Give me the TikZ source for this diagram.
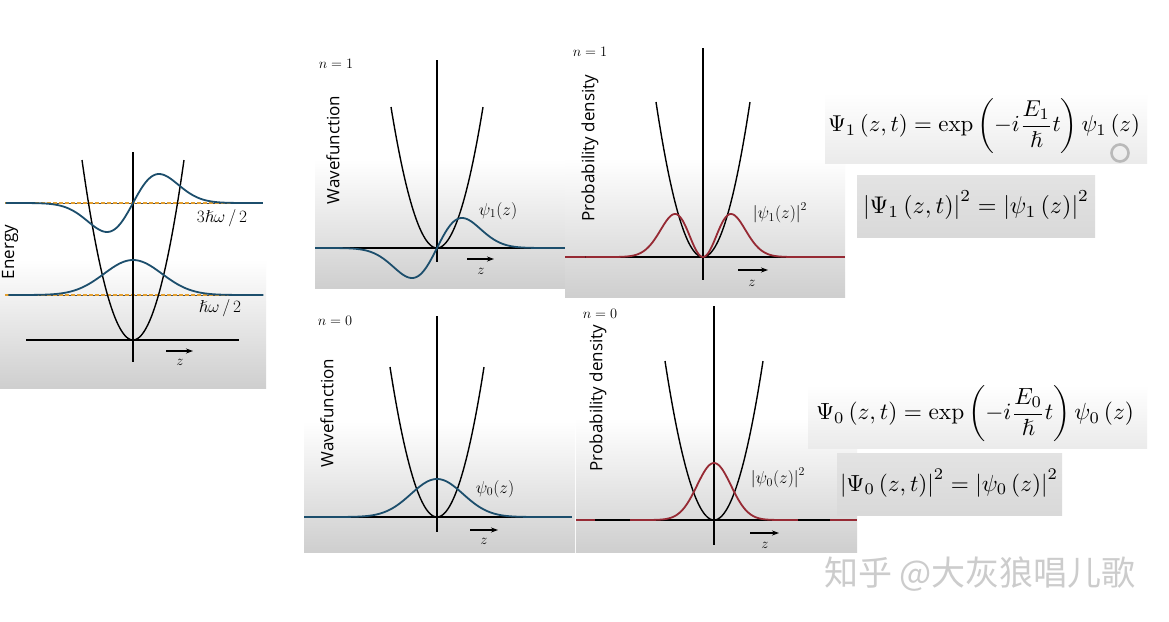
\documentclass[tikz,border=0pt]{standalone}
\usepackage{amsmath}
\usepackage{amssymb}
\usepackage{graphicx}
\usepackage{fontspec}
\setsansfont{Open Sans}
\newfontfamily\cjkfont{Noto Sans CJK SC}
\usetikzlibrary{arrows.meta}
\definecolor{wavec}{RGB}{28,78,108}
\definecolor{probc}{RGB}{150,42,52}
\definecolor{dashc}{RGB}{228,160,48}
\pgfdeclareverticalshading{panelshade}{100bp}{color(0bp)=(gray!38); color(25bp)=(gray!38); color(52bp)=(white); color(100bp)=(white)}
\pgfdeclareverticalshading{eqshade}{100bp}{color(0bp)=(gray!16); color(25bp)=(gray!16); color(75bp)=(white); color(100bp)=(white)}
\pgfdeclareverticalshading{eqdark}{100bp}{color(0bp)=(gray!30); color(25bp)=(gray!30); color(75bp)=(gray!22); color(100bp)=(gray!22)}
\begin{document}
\begin{tikzpicture}[x=1pt,y=-1pt,
  axis/.style={black, line width=1.3pt},
  para/.style={black, line width=1.4pt},
  wave/.style={wavec, line width=1.8pt},
  prob/.style={probc, line width=1.8pt},
  zarrow/.style={-{Stealth[length=7pt,width=5pt]}, line width=1.1pt},
  lab/.style={font=\fontsize{17.28}{20}\selectfont, inner sep=0pt},
  zlab/.style={font=\fontsize{14.4}{17}\selectfont, inner sep=0pt},
  nlab/.style={font=\fontsize{14.4}{17}\selectfont, inner sep=0pt},
  ylab/.style={font=\sffamily\fontsize{17}{20}\selectfont, rotate=90, inner sep=0pt},
  eq/.style={inner sep=0pt},
  level/.style={dashc, line width=1.6pt, dash pattern=on 4pt off 2pt}]
\useasboundingbox (0,0) rectangle (1169,621);
\fill[white] (0,0) rectangle (1169,621);

% ---------- panel backgrounds ----------
\shade[shading=panelshade] (0,150) rectangle (266,388);
\shade[shading=panelshade] (315,50) rectangle (565,288);
\shade[shading=panelshade] (565,40) rectangle (845,297);
\shade[shading=panelshade] (304,310) rectangle (575,552);
\shade[shading=panelshade] (576,305) rectangle (857,552);
\shade[shading=eqshade] (825,93) rectangle (1147,163);
\shade[shading=eqdark] (857,175) rectangle (1095,237);
\shade[shading=eqshade] (808,385) rectangle (1147,448);
\shade[shading=eqdark] (837,453) rectangle (1062,515);

% ---------- left panel: energy levels ----------
\draw[gray!60!black, line width=0.8pt] (5,295) -- (262,295);
\draw[gray!60!black, line width=0.8pt] (5,203) -- (262,203);
\draw[level] (5,295) -- (262,295);
\draw[level] (5,203) -- (262,203);
\draw[axis] (26,340) -- (239,340);
\draw[axis] (133,152) -- (133,362);
\draw[para] plot[domain=-1:1, samples=80, smooth] ({133+51*\x},{340-180*\x*\x});
\draw[wave] plot[domain=-4.3:4.5, samples=150, smooth] ({133+29*\x},{295-35*exp(-\x*\x/2)});
\draw[wave] plot[domain=-4.9:5.0, samples=150, smooth] ({133+26*\x},{203-47.8*\x*exp(-\x*\x/2)});
\node[lab] (e3) at (222,218) {$3\hslash\omega\,/\,2$};
\node[lab] (e1) at (220,308) {$\hslash\omega\,/\,2$};
\node[ylab] (energy) at (10,252) {Energy};
\coordinate (la0) at (166,351); \coordinate (la1) at (193,351);
\draw[zarrow] (la0) -- (la1);
\node[zlab] (lz) at (180,362) {$z$};

% ---------- top middle: psi_1 ----------
\draw[axis] (315,248) -- (563,248);
\draw[axis] (437,60) -- (437,262);
\draw[para] plot[domain=-1:1, samples=80, smooth] ({437+46*\x},{248-141*\x*\x});
\draw[wave] plot[domain=-4.88:5.12, samples=160, smooth] ({437+25*\x},{248-49.5*\x*exp(-\x*\x/2)});
\node[lab] (p1) at (498,211) {$\psi_1(z)$};
\node[nlab] (n1a) at (336,64) {$n=1$};
\node[ylab] (wf1) at (333,150) {Wavefunction};
\coordinate (a1s) at (467,259); \coordinate (a1e) at (494,259);
\draw[zarrow] (a1s) -- (a1e);
\node[zlab] (z1) at (481,271) {$z$};

% ---------- top right: |psi_1|^2 ----------
\draw[prob] (565,257) -- (845,257);
\draw[axis] (585,257) -- (818,257);
\draw[axis] (703,48) -- (703,280);
\draw[para] plot[domain=-1:1, samples=80, smooth] ({703+47*\x},{257-155*\x*\x});
\draw[prob] plot[domain=-4.2:4.2, samples=180, smooth] ({703+28*\x},{257-116.9*\x*\x*exp(-\x*\x)});
\node[lab] (q1) at (780,213) {$\left|\psi_1(z)\right|^2$};
\node[nlab] (n1b) at (590,52) {$n=1$};
\node[ylab] (pd1) at (590,148) {Probability density};
\coordinate (b1s) at (738,270); \coordinate (b1e) at (768,270);
\draw[zarrow] (b1s) -- (b1e);
\node[zlab] (z2) at (752,283) {$z$};

% ---------- bottom middle: psi_0 ----------
\draw[wave] (304,517) -- (572,517);
\draw[axis] (325,517) -- (547,517);
\draw[axis] (437,316) -- (437,532);
\draw[para] plot[domain=-1:1, samples=80, smooth] ({437+47*\x},{517-150*\x*\x});
\draw[wave] plot[domain=-4.3:4.3, samples=150, smooth] ({437+26*\x},{517-38*exp(-\x*\x/2)});
\node[lab] (p0) at (495,489) {$\psi_0(z)$};
\node[nlab] (n0a) at (335,321) {$n=0$};
\node[ylab] (wf0) at (327,413) {Wavefunction};
\coordinate (a0s) at (470,530); \coordinate (a0e) at (498,530);
\draw[zarrow] (a0s) -- (a0e);
\node[zlab] (z3) at (484,541) {$z$};

% ---------- bottom right: |psi_0|^2 ----------
\draw[prob] (576,520) -- (857,520);
\draw[axis] (595,520) -- (830,520);
\draw[axis] (714,306) -- (714,545);
\draw[para] plot[domain=-1:1, samples=80, smooth] ({714+49*\x},{520-159*\x*\x});
\draw[prob] plot[domain=-3.5:3.5, samples=150, smooth] ({714+24*\x},{520-57*exp(-\x*\x)});
\node[lab] (q0) at (778,478) {$\left|\psi_0(z)\right|^2$};
\node[nlab] (n0b) at (600,314) {$n=0$};
\node[ylab] (pd0) at (598,398) {Probability density};
\coordinate (b0s) at (750,533); \coordinate (b0e) at (779,533);
\draw[zarrow] (b0s) -- (b0e);
\node[zlab] (z4) at (765,545) {$z$};

% ---------- equations ----------
\node[eq] (eq1) at (984,126) {\resizebox{312pt}{!}{$\Psi_1\left(z,t\right)=\exp\left(-i\dfrac{E_1}{\hslash}t\right)\psi_1\left(z\right)$}};
\node[eq] (eq2) at (976,205) {\resizebox{226pt}{!}{$\left|\Psi_1\left(z,t\right)\right|^2=\left|\psi_1\left(z\right)\right|^2$}};
\node[eq] (eq3) at (975,414) {\resizebox{318pt}{!}{$\Psi_0\left(z,t\right)=\exp\left(-i\dfrac{E_0}{\hslash}t\right)\psi_0\left(z\right)$}};
\node[eq] (eq4) at (949,483) {\resizebox{218pt}{!}{$\left|\Psi_0\left(z,t\right)\right|^2=\left|\psi_0\left(z\right)\right|^2$}};
\draw[gray!55, line width=2.6pt] (1120,153) circle (8.5);
\node[font=\cjkfont\fontsize{34}{38}\selectfont, text=gray!40, inner sep=0pt] (wm) at (980,574) {知乎 @大灰狼唱儿歌};
\end{tikzpicture}
\end{document}
